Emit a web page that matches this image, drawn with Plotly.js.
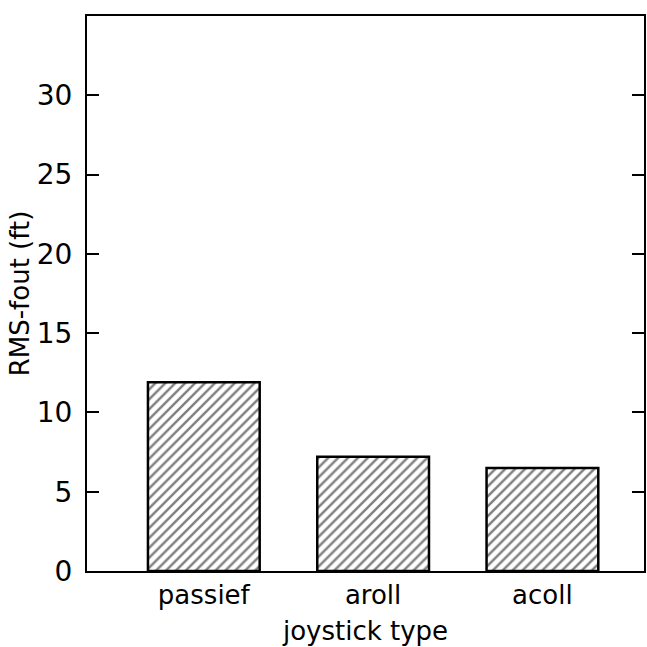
<!DOCTYPE html>
<html>
<head>
<meta charset="utf-8">
<script src="https://cdn.plot.ly/plotly-3.0.1.min.js"></script>
<style>html,body{margin:0;padding:0;background:#fff;}</style>
</head>
<body>
<div id="chart" style="width:647px;height:647px;"></div>
<script>
const categories = ["passief", "aroll", "acoll"];
const rmsValues = [11.9, 7.2, 6.5];
const yTickValues = [0, 5, 10, 15, 20, 25, 30];
const yTickLabels = ["0", "5", "10", "15", "20", "25", "30"];

const FONT = "DejaVu Sans, sans-serif";

const trace = {
  type: "bar",
  x: categories,
  y: rmsValues,
  width: 0.66,
  marker: {
    color: "#ffffff",
    line: {color: "#000000", width: 2.5},
    pattern: {shape: "/", fgcolor: "#000000", bgcolor: "#ffffff", size: 7, solidity: 0.35, fillmode: "overlay"}
  },
  hoverinfo: "none"
};

const layout = {
  width: 647,
  height: 647,
  margin: {l: 87, r: 3, t: 16, b: 76},
  paper_bgcolor: "#ffffff",
  plot_bgcolor: "#ffffff",
  showlegend: false,
  font: {family: FONT, size: 26, color: "#000000"},
  xaxis: {
    type: "category",
    range: [-0.69, 2.6],
    showgrid: false,
    zeroline: false,
    showline: true,
    linecolor: "#000000",
    linewidth: 2,
    mirror: true,
    ticks: "",
    ticklabelstandoff: 0,
    tickfont: {family: FONT, size: 26, color: "#000000"},
    title: {text: "joystick type", font: {family: FONT, size: 26, color: "#000000"}, standoff: 13}
  },
  yaxis: {
    range: [0, 35],
    tickvals: yTickValues,
    ticktext: yTickLabels,
    showgrid: false,
    zeroline: false,
    showline: true,
    linecolor: "#000000",
    linewidth: 2,
    mirror: "ticks",
    ticks: "inside",
    ticklen: 12,
    tickwidth: 2,
    tickcolor: "#000000",
    ticklabelstandoff: 7,
    tickfont: {family: FONT, size: 28, color: "#000000"},
    title: {text: "RMS-fout (ft)", font: {family: FONT, size: 26, color: "#000000"}, standoff: 0}
  }
};

Plotly.newPlot("chart", [trace], layout, {displayModeBar: false, staticPlot: true});
</script>
</body>
</html>
